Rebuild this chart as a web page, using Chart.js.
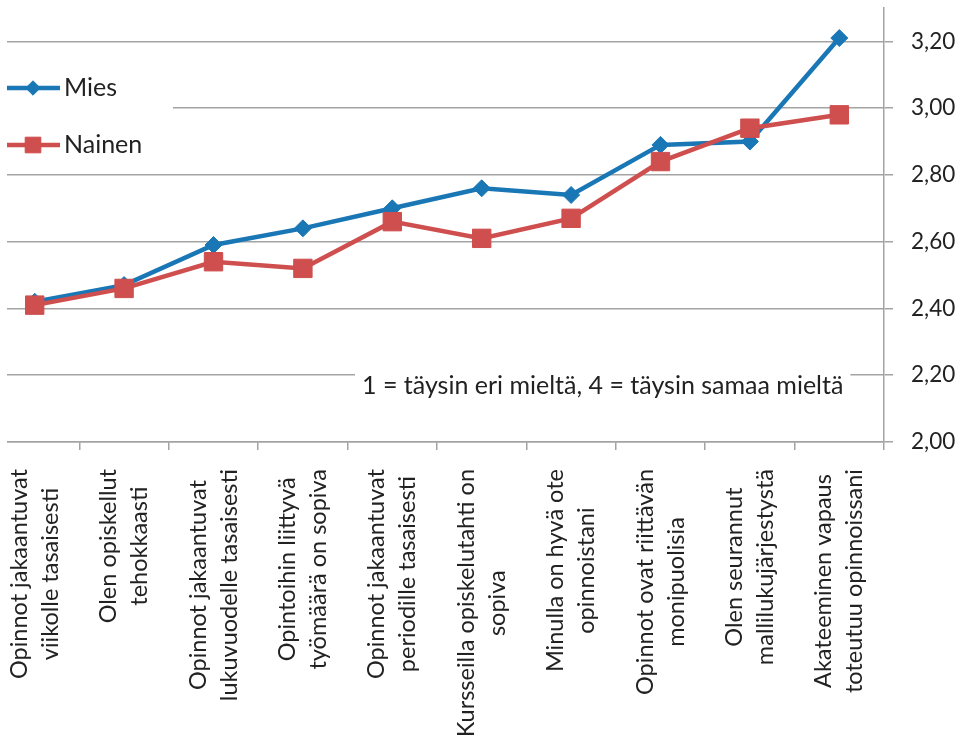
<!DOCTYPE html>
<html>
<head>
<meta charset="utf-8">
<script src="https://cdn.jsdelivr.net/npm/chart.js@4.4.1/dist/chart.umd.min.js"></script>
<style>
  html, body { margin: 0; padding: 0; background: #fff; overflow: hidden; }
  #wrap { position: absolute; left: -10px; top: 0; width: 973px; height: 749px; }
</style>
</head>
<body>
<div id="wrap"><canvas id="c"></canvas></div>
<script>
const categories = [
  ["Opinnot jakaantuvat", "viikolle tasaisesti"],
  ["Olen opiskellut", "tehokkaasti"],
  ["Opinnot jakaantuvat", "lukuvuodelle tasaisesti"],
  ["Opintoihin liittyvä", "työmäärä on sopiva"],
  ["Opinnot jakaantuvat", "periodille tasaisesti"],
  ["Kursseilla opiskelutahti on", "sopiva"],
  ["Minulla on hyvä ote", "opinnoistani"],
  ["Opinnot ovat riittävän", "monipuolisia"],
  ["Olen seurannut", "mallilukujärjestystä"],
  ["Akateeminen vapaus", "toteutuu opinnoissani"]
];
const miesValues   = [2.42, 2.47, 2.59, 2.64, 2.70, 2.76, 2.74, 2.89, 2.90, 3.21];
const nainenValues = [2.41, 2.46, 2.54, 2.52, 2.66, 2.61, 2.67, 2.84, 2.94, 2.98];
const seriesNames = ["Mies", "Nainen"];
const yMin = 2.0, yMax = 3.3, yStep = 0.2;
const noteText = "1 = täysin eri mieltä, 4 = täysin samaa mieltä";

const FONT = "Lato, 'Open Sans', sans-serif";
const BLUE = "#1a77b6";
const RED = "#cf4e4e";
const GRID = "#a3a3a3";

const overlayPlugin = {
  id: 'overlay',
  beforeDatasetsDraw(chart) {
    const ctx = chart.ctx;
    const off = 10; // canvas offset vs page
    ctx.save();
    // clear left margin strip like the reference
    ctx.fillStyle = '#fff';
    ctx.fillRect(0, 0, 7 + off, chart.chartArea.bottom + 2);
    // legend box
    ctx.fillRect(0, 50, 173 + off, 118);
    const rows = [88, 145];
    chart.data.datasets.forEach((ds, i) => {
      const y = rows[i];
      ctx.strokeStyle = ds.borderColor;
      ctx.lineWidth = ds.borderWidth;
      ctx.beginPath();
      ctx.moveTo(7 + off, y);
      ctx.lineTo(60 + off, y);
      ctx.stroke();
      ctx.fillStyle = ds.pointBackgroundColor;
      ctx.strokeStyle = ds.pointBorderColor;
      ctx.lineWidth = 1;
      Chart.helpers.drawPoint(ctx, {pointStyle: ds.pointStyle, radius: ds.pointRadius * 0.85, rotation: 0, borderWidth: 1}, 33 + off, y);
      ctx.fillStyle = '#222';
      ctx.font = "25px " + FONT;
      ctx.textAlign = 'left';
      ctx.textBaseline = 'middle';
      ctx.fillText(ds.label, 64 + off, y);
    });
    // note box
    ctx.font = "25px " + FONT;
    const w = ctx.measureText(noteText).width;
    const yNote = chart.scales.y.getPixelForValue(2.2);
    ctx.fillStyle = '#fff';
    ctx.fillRect(355 + off, yNote - 14, w + 14, 34);
    ctx.fillStyle = '#222';
    ctx.textAlign = 'left';
    ctx.textBaseline = 'middle';
    ctx.fillText(noteText, 362 + off, yNote + 11);
    ctx.restore();
  },
  afterDraw(chart) {
    const ctx = chart.ctx;
    const xs = chart.scales.x;
    ctx.save();
    ctx.font = "23.5px " + FONT;
    ctx.fillStyle = '#222';
    ctx.textAlign = 'center';
    ctx.textBaseline = 'middle';
    const lh = 31;
    const top = xs.top + 27;
    chart.data.labels.forEach((lab, i) => {
      const lines = Array.isArray(lab) ? lab : [lab];
      const maxW = Math.max(...lines.map(l => ctx.measureText(l).width));
      const x = xs.getPixelForValue(i);
      ctx.save();
      ctx.translate(x, top);
      ctx.rotate(-Math.PI / 2);
      lines.forEach((l, j) => {
        ctx.fillText(l, -maxW / 2, (j - (lines.length - 1) / 2) * lh);
      });
      ctx.restore();
    });
    ctx.restore();
  }
};

new Chart(document.getElementById('c'), {
  type: 'line',
  data: {
    labels: categories,
    datasets: [
      {
        label: seriesNames[0],
        data: miesValues,
        borderColor: BLUE,
        backgroundColor: BLUE,
        pointBackgroundColor: BLUE,
        pointBorderColor: BLUE,
        borderWidth: 4.5,
        pointStyle: 'rectRot',
        pointRadius: 8.5,
        pointBorderWidth: 1,
        tension: 0,
        order: 1
      },
      {
        label: seriesNames[1],
        data: nainenValues,
        borderColor: RED,
        backgroundColor: RED,
        pointBackgroundColor: RED,
        pointBorderColor: RED,
        borderWidth: 4.5,
        pointStyle: 'rect',
        pointRadius: 13,
        pointBorderWidth: 1,
        tension: 0,
        order: 0
      }
    ]
  },
  options: {
    responsive: true,
    maintainAspectRatio: false,
    animation: false,
    layout: { autoPadding: false, padding: { left: 0, right: 0, top: 8, bottom: 0 } },
    plugins: { legend: { display: false }, tooltip: { enabled: false } },
    scales: {
      x: {
        type: 'category',
        offset: true,
        grid: { display: true, drawOnChartArea: false, drawTicks: true, tickLength: 8, color: GRID, lineWidth: 1.5, offset: true },
        border: { display: true, color: GRID, width: 1.5 },
        ticks: { display: false },
        afterFit(scale) { scale.height = 749 - 442; scale.paddingLeft = 0; scale.paddingRight = 0; }
      },
      y: {
        position: 'right',
        min: yMin,
        max: yMax,
        grid: { color: GRID, lineWidth: 1.5, tickLength: 9, drawTicks: true },
        border: { display: true, color: GRID, width: 1.5 },
        ticks: {
          stepSize: yStep,
          includeBounds: false,
          padding: 18,
          color: '#222',
          font: { family: FONT, size: 22.5 },
          callback: v => v.toFixed(2).replace('.', ',')
        },
        afterFit(scale) { scale.width = 973 - 894; scale.paddingTop = 0; scale.paddingBottom = 0; }
      }
    }
  },
  plugins: [overlayPlugin]
});
</script>
</body>
</html>
